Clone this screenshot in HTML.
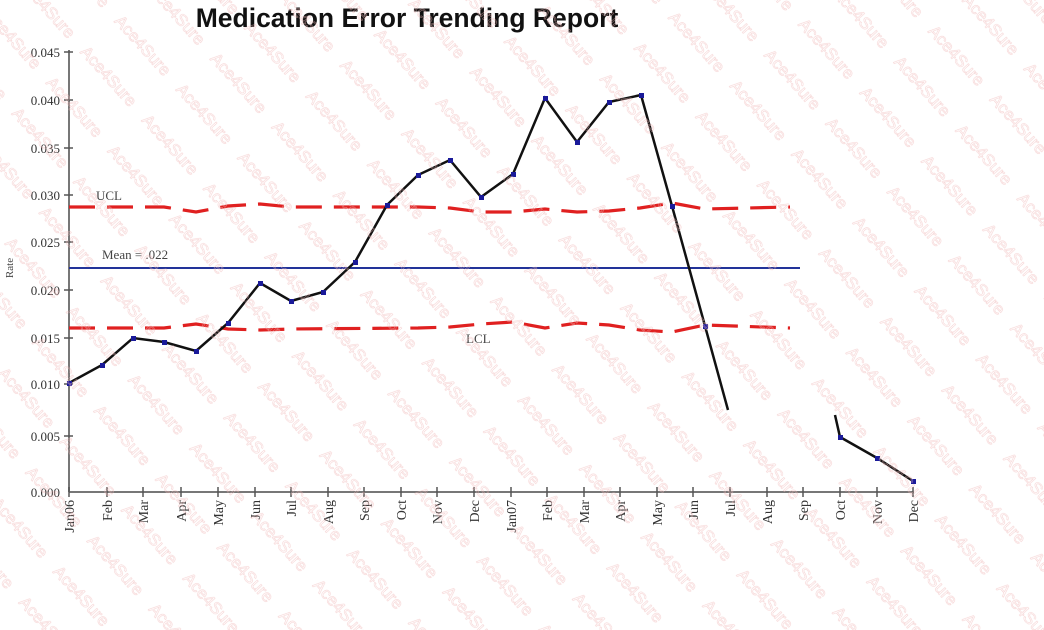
<!DOCTYPE html>
<html><head><meta charset="utf-8"><style>
html,body{margin:0;padding:0;background:#fff;width:1044px;height:630px;overflow:hidden}
svg{display:block}
</style></head><body>
<svg width="1044" height="630" xmlns="http://www.w3.org/2000/svg" font-family="Liberation Serif, serif">
<defs>
<pattern id="wm" width="92" height="46" patternUnits="userSpaceOnUse" patternTransform="rotate(48)">
<text x="0" y="22" font-family="Liberation Sans, sans-serif" font-size="17" fill="none" stroke="#f0b8b8" stroke-width="0.5">Ace4Sure</text>
</pattern>
</defs>
<rect width="1044" height="630" fill="#fff"/>
<text x="407" y="27" text-anchor="middle" font-family="Liberation Sans, sans-serif" font-weight="bold" font-size="26.5" fill="#111">Medication Error Trending Report</text>
<g stroke="#777" stroke-width="2" fill="none">
<line x1="69" y1="50" x2="69" y2="492"/>
<line x1="69" y1="492" x2="914" y2="492"/>
</g>
<g stroke="#555" stroke-width="1.5">
<line x1="64" y1="52" x2="73" y2="52"/><line x1="64" y1="100" x2="73" y2="100"/>
<line x1="64" y1="148" x2="73" y2="148"/><line x1="64" y1="195" x2="73" y2="195"/>
<line x1="64" y1="242" x2="73" y2="242"/><line x1="64" y1="290" x2="73" y2="290"/>
<line x1="64" y1="338" x2="73" y2="338"/><line x1="64" y1="384" x2="73" y2="384"/>
<line x1="64" y1="436" x2="73" y2="436"/>
</g>
<g font-size="13" fill="#333" text-anchor="end">
<text x="60" y="57">0.045</text><text x="60" y="105">0.040</text><text x="60" y="153">0.035</text>
<text x="60" y="200">0.030</text><text x="60" y="247">0.025</text><text x="60" y="295">0.020</text>
<text x="60" y="343">0.015</text><text x="60" y="389">0.010</text><text x="60" y="441">0.005</text>
<text x="60" y="497">0.000</text>
</g>
<text transform="translate(13,268) rotate(-90)" font-size="11" fill="#444" text-anchor="middle">Rate</text>
<g stroke="#555" stroke-width="1.5">
<line x1="69" y1="487" x2="69" y2="497"/><line x1="107" y1="487" x2="107" y2="497"/><line x1="143" y1="487" x2="143" y2="497"/><line x1="181" y1="487" x2="181" y2="497"/><line x1="218" y1="487" x2="218" y2="497"/><line x1="255" y1="487" x2="255" y2="497"/><line x1="291" y1="487" x2="291" y2="497"/><line x1="328" y1="487" x2="328" y2="497"/><line x1="364" y1="487" x2="364" y2="497"/><line x1="401" y1="487" x2="401" y2="497"/><line x1="437" y1="487" x2="437" y2="497"/><line x1="474" y1="487" x2="474" y2="497"/><line x1="511" y1="487" x2="511" y2="497"/><line x1="547" y1="487" x2="547" y2="497"/><line x1="584" y1="487" x2="584" y2="497"/><line x1="620" y1="487" x2="620" y2="497"/><line x1="657" y1="487" x2="657" y2="497"/><line x1="693" y1="487" x2="693" y2="497"/><line x1="730" y1="487" x2="730" y2="497"/><line x1="767" y1="487" x2="767" y2="497"/><line x1="803" y1="487" x2="803" y2="497"/><line x1="840" y1="487" x2="840" y2="497"/><line x1="877" y1="487" x2="877" y2="497"/><line x1="913" y1="487" x2="913" y2="497"/>
</g>
<g font-size="14" fill="#333" text-anchor="end">
<text transform="translate(74,500) rotate(-90)">Jan06</text>
<text transform="translate(112,500) rotate(-90)">Feb</text>
<text transform="translate(148,500) rotate(-90)">Mar</text>
<text transform="translate(186,500) rotate(-90)">Apr</text>
<text transform="translate(223,500) rotate(-90)">May</text>
<text transform="translate(260,500) rotate(-90)">Jun</text>
<text transform="translate(296,500) rotate(-90)">Jul</text>
<text transform="translate(333,500) rotate(-90)">Aug</text>
<text transform="translate(369,500) rotate(-90)">Sep</text>
<text transform="translate(406,500) rotate(-90)">Oct</text>
<text transform="translate(442,500) rotate(-90)">Nov</text>
<text transform="translate(479,500) rotate(-90)">Dec</text>
<text transform="translate(516,500) rotate(-90)">Jan07</text>
<text transform="translate(552,500) rotate(-90)">Feb</text>
<text transform="translate(589,500) rotate(-90)">Mar</text>
<text transform="translate(625,500) rotate(-90)">Apr</text>
<text transform="translate(662,500) rotate(-90)">May</text>
<text transform="translate(698,500) rotate(-90)">Jun</text>
<text transform="translate(735,500) rotate(-90)">Jul</text>
<text transform="translate(772,500) rotate(-90)">Aug</text>
<text transform="translate(808,500) rotate(-90)">Sep</text>
<text transform="translate(845,500) rotate(-90)">Oct</text>
<text transform="translate(882,500) rotate(-90)">Nov</text>
<text transform="translate(918,500) rotate(-90)">Dec</text>
</g>
<polyline points="69,207 164,207 196,212 228,206 260,204 291,207 387,207 418,207 450,208 481,212 513,212 545,209 577,212 609,211 640,208 672,203 705,209 790,207" fill="none" stroke="#e02020" stroke-width="3.2" stroke-dasharray="26,12"/>
<polyline points="69,328 164,328 196,324 228,329 260,330 291,329 418,328 450,327 481,324 513,322 545,328 577,323 609,325 640,330 672,332 705,325 790,328" fill="none" stroke="#e02020" stroke-width="3.2" stroke-dasharray="26,12"/>
<line x1="69" y1="268" x2="800" y2="268" stroke="#223399" stroke-width="2"/>
<text x="96" y="200" font-size="13" fill="#444">UCL</text>
<text x="102" y="259" font-size="13" fill="#444">Mean = .022</text>
<text x="466" y="343" font-size="13" fill="#444">LCL</text>
<polyline points="69,383 102,365 133,338 164,342 196,351 228,323 260,283 291,301 323,292 355,262 387,205 418,175 450,160 481,197 513,174 545,98 577,142 609,102 641,95 672,206 705,326 728,410" fill="none" stroke="#111" stroke-width="2.5"/>
<polyline points="835,415 840,437 877,458 913,481" fill="none" stroke="#111" stroke-width="2.5"/>
<g fill="#1a1a99">
<rect x="67" y="381" width="5" height="5"/><rect x="100" y="363" width="5" height="5"/><rect x="131" y="336" width="5" height="5"/><rect x="162" y="340" width="5" height="5"/><rect x="194" y="349" width="5" height="5"/><rect x="226" y="321" width="5" height="5"/><rect x="258" y="281" width="5" height="5"/><rect x="289" y="299" width="5" height="5"/><rect x="321" y="290" width="5" height="5"/><rect x="353" y="260" width="5" height="5"/><rect x="385" y="203" width="5" height="5"/><rect x="416" y="173" width="5" height="5"/><rect x="448" y="158" width="5" height="5"/><rect x="479" y="195" width="5" height="5"/><rect x="511" y="172" width="5" height="5"/><rect x="543" y="96" width="5" height="5"/><rect x="575" y="140" width="5" height="5"/><rect x="607" y="100" width="5" height="5"/><rect x="639" y="93" width="5" height="5"/><rect x="670" y="204" width="5" height="5"/><rect x="703" y="324" width="5" height="5"/><rect x="838" y="435" width="5" height="5"/><rect x="875" y="456" width="5" height="5"/><rect x="911" y="479" width="5" height="5"/>
</g>
<rect width="1044" height="630" fill="url(#wm)" opacity="0.7"/>
</svg>
</body></html>
